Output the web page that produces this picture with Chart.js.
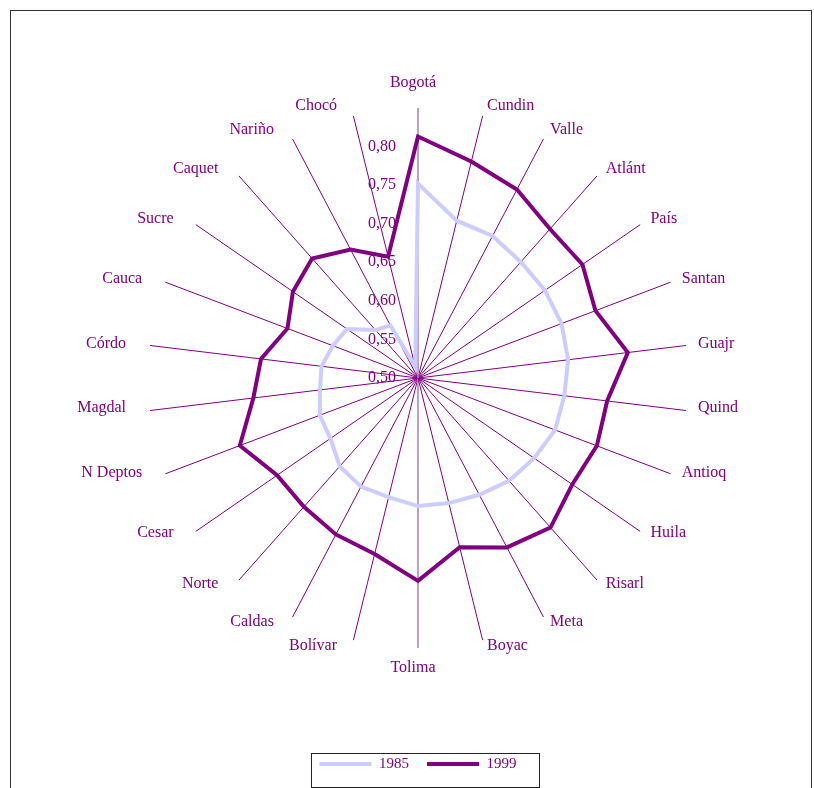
<!DOCTYPE html>
<html lang="es">
<head>
  <meta charset="UTF-8" />
  <title>Radar 1985 / 1999</title>
  <script src="https://cdn.jsdelivr.net/npm/chart.js"></script>
  <style>
    body, html { margin: 0; padding: 0; background: #fff; overflow: hidden; }
    #frame { position: absolute; left: 10px; top: 10px; width: 802px; height: 800px; border: 1px solid #333; box-sizing: border-box; }
    #wrap { position: absolute; left: 0; top: 0; width: 814px; height: 788px; }
  </style>
</head>
<body>
  <div id="frame"></div>
  <div id="wrap"><canvas id="radar" width="814" height="788"></canvas></div>

  <script>
    const categories = ['Bogotá', 'Cundin', 'Valle', 'Atlánt', 'País', 'Santan', 'Guajr', 'Quind', 'Antioq',
      'Huila', 'Risarl', 'Meta', 'Boyac', 'Tolima', 'Bolívar', 'Caldas', 'Norte', 'Cesar', 'N Deptos',
      'Magdal', 'Córdo', 'Cauca', 'Sucre', 'Caquet', 'Nariño', 'Chocó'];

    const values1985 = [0.752, 0.710, 0.708, 0.701, 0.700, 0.699, 0.696, 0.691, 0.690, 0.683, 0.678,
      0.671, 0.667, 0.666, 0.659, 0.659, 0.653, 0.638, 0.636, 0.628, 0.626, 0.618, 0.612, 0.583, 0.577, 0.515];

    const values1999 = [0.813, 0.789, 0.776, 0.758, 0.759, 0.746, 0.774, 0.747, 0.748, 0.743, 0.759,
      0.748, 0.726, 0.763, 0.735, 0.729, 0.723, 0.722, 0.747, 0.715, 0.705, 0.681, 0.697, 0.707, 0.688, 0.662];

    const tickValues = [0.50, 0.55, 0.60, 0.65, 0.70, 0.75, 0.80];
    const tickLabels = ['0,50', '0,55', '0,60', '0,65', '0,70', '0,75', '0,80'];

    const purple = '#800080';
    const serif = "'Liberation Serif', 'Times New Roman', serif";

    // Achsenbeschriftung links neben der senkrechten Achse
    const tickLabelPlugin = {
      id: 'tickLabels',
      beforeDatasetsDraw(chart) {
        const s = chart.scales.r;
        const ctx = chart.ctx;
        ctx.save();
        ctx.font = '16px ' + serif;
        ctx.fillStyle = purple;
        ctx.textAlign = 'right';
        ctx.textBaseline = 'middle';
        tickValues.forEach((v, i) => {
          const y = s.yCenter - s.getDistanceFromCenterForValue(v);
          ctx.fillText(tickLabels[i], s.xCenter - 22, y);
        });
        ctx.restore();
      }
    };

    // Kategorienamen am Ende der Speichen (wie im Excel-Original ausgerichtet)
    const spokeLabelPlugin = {
      id: 'spokeLabels',
      afterDatasetsDraw(chart) {
        const s = chart.scales.r;
        const ctx = chart.ctx;
        ctx.save();
        ctx.font = '16px ' + serif;
        ctx.fillStyle = purple;
        ctx.textBaseline = 'middle';
        chart.data.labels.forEach((label, i) => {
          const a = s.getIndexAngle(i);
          const sin = Math.sin(a), cos = Math.cos(a);
          const p = s.getPointPosition(i, s.drawingArea + 10);
          let x = p.x, y = p.y;
          if (Math.abs(sin) < 0.05) {
            ctx.textAlign = 'center';
            x -= 5;
            y += cos > 0 ? -15 : 10;
          } else {
            if (sin > 0) {
              ctx.textAlign = 'left';
              x += 2;
            } else {
              ctx.textAlign = 'right';
              x -= 14;
            }
            if (cos < 0) y -= 4;
          }
          ctx.fillText(label, x, y);
        });
        ctx.restore();
      }
    };

    // Rahmen um die Legende
    const legendBoxPlugin = {
      id: 'legendBox',
      afterDraw(chart) {
        const boxes = chart.legend.legendHitBoxes;
        if (!boxes || !boxes.length) return;
        const first = boxes[0];
        const last = boxes[boxes.length - 1];
        const ctx = chart.ctx;
        ctx.save();
        ctx.strokeStyle = '#222';
        ctx.lineWidth = 1;
        const left = Math.round(first.left - 9) + 0.5;
        const right = Math.round(last.left + last.width + 22) + 0.5;
        const top = Math.round(first.top - 4) + 0.5;
        const bottom = Math.round(first.top + 30) + 0.5;
        ctx.strokeRect(left, top, right - left, bottom - top);
        ctx.restore();
      }
    };

    const ctx = document.getElementById('radar').getContext('2d');
    new Chart(ctx, {
      type: 'radar',
      data: {
        labels: categories,
        datasets: [
          {
            label: '1985',
            data: values1985,
            borderColor: '#ccccff',
            backgroundColor: '#ccccff',
            borderWidth: 4,
            pointRadius: 0,
            fill: false,
            tension: 0
          },
          {
            label: '1999',
            data: values1999,
            borderColor: purple,
            backgroundColor: purple,
            borderWidth: 4,
            pointRadius: 0,
            fill: false,
            tension: 0
          }
        ]
      },
      options: {
        responsive: false,
        animation: false,
        devicePixelRatio: 1,
        layout: { padding: { left: 48, right: 26, top: 107.5, bottom: 6.5 } },
        scales: {
          r: {
            min: 0.5,
            max: 0.85,
            startAngle: 0,
            ticks: { display: false, stepSize: 0.05 },
            grid: { display: false },
            angleLines: {
              color: c => (c.index === 0 || c.index === 13) ? '#b088b8' : purple,
              lineWidth: c => (c.index === 0 || c.index === 13) ? 1.6 : 1
            },
            pointLabels: { display: false }
          }
        },
        plugins: {
          tooltip: { enabled: false },
          legend: {
            position: 'bottom',
            title: { display: true, text: '', font: { size: 12 }, padding: { top: 0, bottom: 75.6 } },
            labels: {
              boxWidth: 52,
              boxHeight: 4,
              padding: 18,
              font: { family: serif, size: 15 },
              color: purple,
              generateLabels: chart => chart.data.datasets.map((ds, i) => ({
                text: ds.label,
                fillStyle: ds.borderColor,
                strokeStyle: ds.borderColor,
                lineWidth: 0,
                fontColor: purple,
                hidden: false,
                datasetIndex: i
              }))
            }
          }
        }
      },
      plugins: [tickLabelPlugin, spokeLabelPlugin, legendBoxPlugin]
    });
  </script>
</body>
</html>
